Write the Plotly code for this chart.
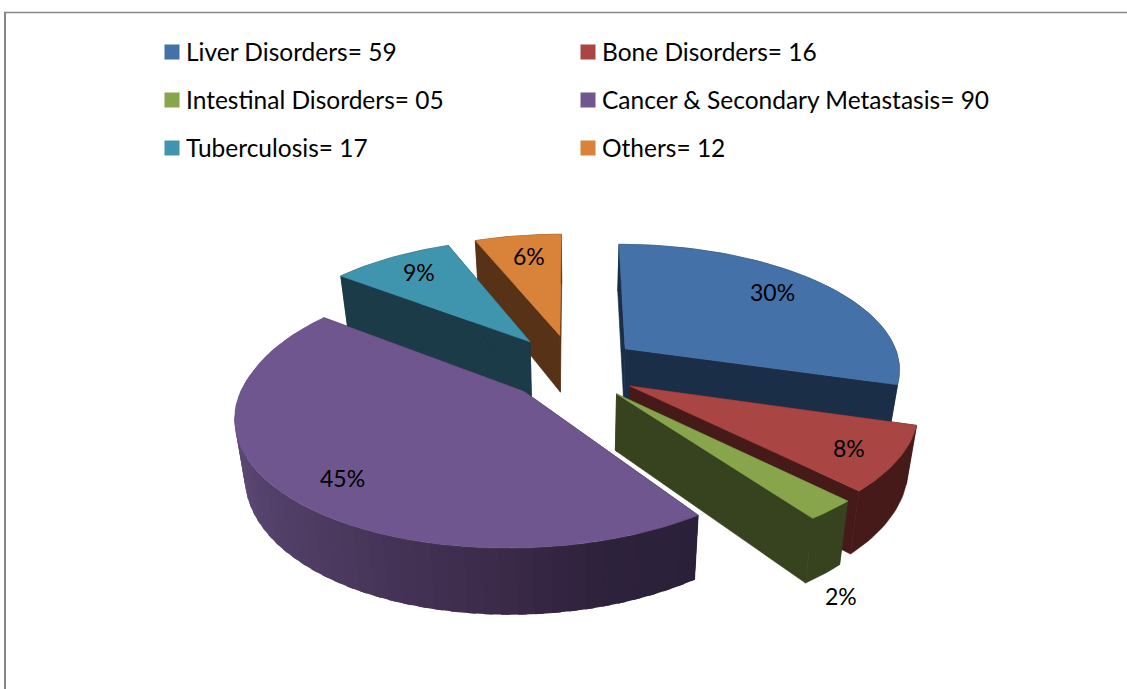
import math
import plotly.graph_objects as go

# ---- data ----
categories = ["Liver Disorders", "Bone Disorders", "Intestinal Disorders",
              "Cancer & Secondary Metastasis", "Tuberculosis", "Others"]
value_labels = ["59", "16", "05", "90", "17", "12"]
values = [59, 16, 5, 90, 17, 12]
percent_labels = ["30%", "8%", "2%", "45%", "9%", "6%"]

# ---- styles ----
top_colors = ["#4472A8", "#A94542", "#88A54C", "#6F568E", "#3F95AE", "#D98239"]
wall_colors = ["#1A2E47", "#451A18", "#37421E", "#2C2239", "#1A3B47", "#573216"]
purple_wall_stops = [(144, (42, 32, 56)), (165, (46, 34, 60)), (185, (62, 44, 76)),
                     (215, (76, 58, 96)), (250, (92, 72, 116)), (310, (100, 80, 126))]
FONT = "Lato"
LEGEND_SIZE = 24.5
LABEL_SIZE = 23

# ---- projection (layout constants, pixels) ----
CX, CY = 576, 370
RX, RY = 280, 126
PERSP = 0.15
SHRINK = 0.97
PULL_X, PULL_BACK, PULL_FRONT = 0.22, 0.29, 0.24
slice_dx = [1, 0, 0, -5, -10, -5]
slice_radius = [0.99, 0.995, 1, 0.987, 0.975, 0.98]
slice_height = [55, 55, 55, 55, 60, 59]
slice_front_shear = [0, 0, 0, 8, 0, 0]
draw_order = [5, 4, 0, 1, 2, 3]
label_xy = [(772, 292), (849, 448), (841, 596), (342, 478), (419, 272), (529, 256)]
legend_xy = [(146, 52), (562, 52), (146, 100), (562, 100), (146, 148), (562, 148)]

total = sum(values)
starts, acc = [], 0
for v in values:
    starts.append(acc / total * 360)
    acc += v
ends = [s + v / total * 360 for s, v in zip(starts, values)]


def project(i, X, D):
    s = 1 / (1 + PERSP * D)
    x = CX + RX * X * s + slice_dx[i] + slice_front_shear[i] * min(D, 0)
    return x, CY - RY * D * s, s


def lower(i, p):
    x, y, s = p
    return CX + (x - CX) * SHRINK, y + slice_height[i] * s


def rim(i, a, b, step=1.5):
    n = max(2, int(abs(b - a) / step) + 1)
    mid = math.radians((starts[i] + ends[i]) / 2)
    ox = PULL_X * math.sin(mid)
    oy = (PULL_BACK if math.cos(mid) > 0 else PULL_FRONT) * math.cos(mid)
    pts = []
    for k in range(n + 1):
        t = math.radians(a + (b - a) * k / n)
        pts.append(project(i, ox + slice_radius[i] * math.sin(t), oy + math.cos(t)))
    return pts, project(i, ox, oy)


def poly(xs, ys, color, name, width=0.6):
    return go.Scatter(x=xs, y=ys, mode="lines", fill="toself", fillcolor=color,
                      line=dict(color=color, width=width), name=name,
                      showlegend=False, hoverinfo="name")


def band(i, points, color, name, width=0.6):
    low = [lower(i, p) for p in points]
    xs = [p[0] for p in points] + [p[0] for p in reversed(low)]
    ys = [p[1] for p in points] + [p[1] for p in reversed(low)]
    return poly(xs + xs[:1], ys + ys[:1], color, name, width)


def purple_at(theta):
    stops = purple_wall_stops
    for (a, ca), (b, cb) in zip(stops, stops[1:]):
        if a <= theta <= b:
            f = (theta - a) / (b - a)
            c = [round(u + (w - u) * f) for u, w in zip(ca, cb)]
            return "rgb(%d,%d,%d)" % tuple(c)
    return "rgb(%d,%d,%d)" % stops[-1][1]


fig = go.Figure()
for i in draw_order:
    a, b = starts[i], ends[i]
    name = categories[i]
    pts, apex = rim(i, a, b)
    # radial walls
    fig.add_trace(band(i, [apex, pts[0]], wall_colors[i], name))
    fig.add_trace(band(i, [apex, pts[-1]], wall_colors[i], name))
    # outer wall; the cancer slice is shaded along its arc, bands overlapping with no outline
    if i == 3:
        t = b
        while t > a:
            t2 = max(t - 3, a)
            seg, _ = rim(i, max(t2 - 1.5, a), t, step=1)
            fig.add_trace(band(i, seg, purple_at((t + t2) / 2), name, width=0))
            t = t2
    else:
        fig.add_trace(band(i, pts, wall_colors[i], name))
    # top face
    xs = [apex[0]] + [p[0] for p in pts] + [apex[0]]
    ys = [apex[1]] + [p[1] for p in pts] + [apex[1]]
    fig.add_trace(poly(xs, ys, top_colors[i], name))

# legend: one single-entry legend per category, so each sits where the original does
legend_layout = {}
for i, (cat, lab) in enumerate(zip(categories, value_labels)):
    key = "legend" if i == 0 else "legend%d" % (i + 1)
    fig.add_trace(go.Scatter(
        x=[None], y=[None], mode="markers", name="%s= %s" % (cat, lab),
        legend=key, showlegend=True,
        marker=dict(symbol="square", size=15, color=top_colors[i], angle=90, standoff=6)))
    px, py = legend_xy[i]
    legend_layout[key] = dict(x=px / 1127, y=1 - py / 689, xanchor="left", yanchor="middle",
                              bgcolor="rgba(0,0,0,0)", font=dict(family=FONT, size=LEGEND_SIZE, color="#000000"),
                              itemclick=False, itemdoubleclick=False)

annotations = [dict(x=x, y=y, xref="x", yref="y", text=t, showarrow=False,
                    font=dict(family=FONT, size=LABEL_SIZE, color="#000000"))
               for (x, y), t in zip(label_xy, percent_labels)]

shapes = [
    dict(type="line", xref="x", yref="y", x0=4, x1=1127, y0=12.5, y1=12.5,
         line=dict(color="#868686", width=1.5)),
    dict(type="line", xref="x", yref="y", x0=5, x1=5, y0=12, y1=689,
         line=dict(color="#868686", width=2)),
]

fig.update_layout(
    width=1127, height=689, margin=dict(l=0, r=0, t=0, b=0),
    paper_bgcolor="#FFFFFF", plot_bgcolor="#FFFFFF",
    xaxis=dict(range=[0, 1127], visible=False, fixedrange=True),
    yaxis=dict(range=[689, 0], visible=False, fixedrange=True),
    annotations=annotations, shapes=shapes, **legend_layout)

fig.write_html("out.html", config={"displayModeBar": False},
               post_script="document.body.style.margin='0';document.documentElement.style.overflow='hidden';")
